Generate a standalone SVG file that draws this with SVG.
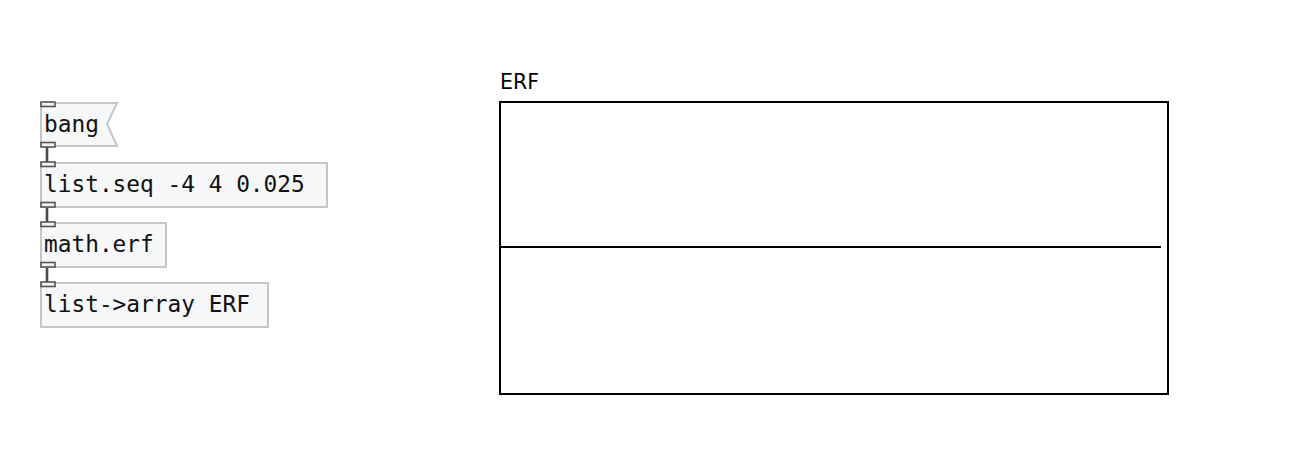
<svg xmlns="http://www.w3.org/2000/svg" width="1294" height="463" viewBox="0 0 1294 463">
<style>
.box{fill:#f6f7f9;stroke:#c6c6c6;stroke-width:2}
.io{fill:#f2f2f2;stroke:#555;stroke-width:1.6}
.txt{font-family:"DejaVu Sans Mono",monospace;font-size:22.8px;fill:#111}
.conn{stroke:#4a4a4a;stroke-width:2.6;fill:none}
.lbl{font-family:"DejaVu Sans",sans-serif;font-size:20.5px;fill:#000}
</style>
<rect width="1294" height="463" fill="#fff"/>
<g id="connectors">
<line class="conn" x1="47" y1="147" x2="47" y2="162"/>
<line class="conn" x1="47" y1="207" x2="47" y2="222"/>
<line class="conn" x1="47" y1="267" x2="47" y2="282"/>
</g>
<g id="bang">
<path class="box" d="M41,103 H117 L107,124 L117,146 H41 Z"/>
<rect class="io" x="41" y="102" width="14" height="4.5"/>
<rect class="io" x="41" y="142.5" width="14" height="4.5"/>
<text class="txt" x="44" y="132">bang</text>
</g>
<g id="listseq">
<rect class="box" x="41" y="163" width="286" height="44"/>
<rect class="io" x="41" y="162" width="14" height="4.5"/>
<rect class="io" x="41" y="202.5" width="14" height="4.5"/>
<text class="txt" x="44" y="192">list.seq -4 4 0.025</text>
</g>
<g id="matherf">
<rect class="box" x="41" y="223" width="125" height="44"/>
<rect class="io" x="41" y="222" width="14" height="4.5"/>
<rect class="io" x="41" y="262.5" width="14" height="4.5"/>
<text class="txt" x="44" y="252">math.erf</text>
</g>
<g id="listarray">
<rect class="box" x="41" y="283" width="227" height="44"/>
<rect class="io" x="41" y="282" width="14" height="4.5"/>
<text class="txt" x="44" y="312">list-&gt;array ERF</text>
</g>
<g id="array">
<text class="lbl" x="500" y="89">ERF</text>
<rect x="500" y="102" width="668" height="292" fill="#fff" stroke="#000" stroke-width="2"/>
<line x1="500" y1="247" x2="1161" y2="247" stroke="#000" stroke-width="2"/>
</g>
</svg>
